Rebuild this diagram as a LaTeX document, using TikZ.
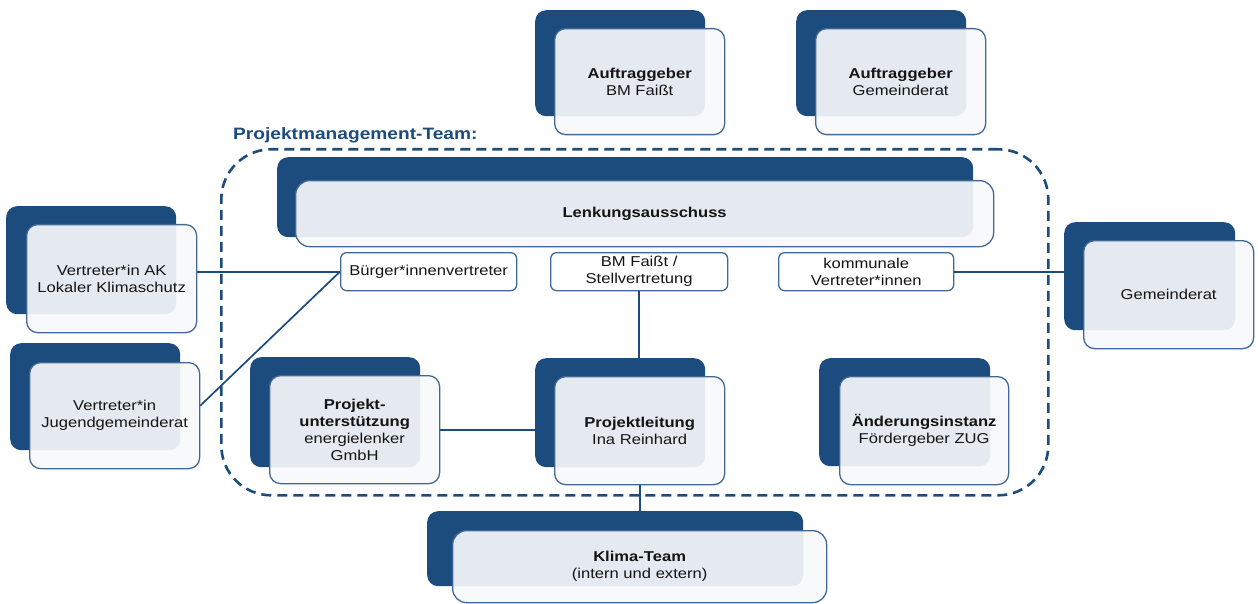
\documentclass[tikz,border=0pt]{standalone}
\usepackage{fontspec}
\setmainfont[FakeStretch=1.16]{Liberation Sans}
\definecolor{dblue}{RGB}{28,75,125}
\definecolor{lblue}{RGB}{68,104,150}
\definecolor{ffill}{RGB}{247,248,250}
\definecolor{txt}{RGB}{20,20,20}
\begin{document}
\begin{tikzpicture}[x=1pt,y=-1pt,
 backbox/.style={draw=none, fill=dblue, rounded corners=11pt, inner sep=0pt, anchor=north west},
 frontbox/.style={draw=lblue, line width=1.3pt, fill=ffill, fill opacity=0.92, text opacity=1, rounded corners=11pt, align=center, text=txt, font=\fontsize{14.3}{17}\selectfont, inner sep=0pt, anchor=north west},
 smallbox/.style={draw=lblue, line width=1.3pt, fill=white, rounded corners=6pt, align=center, text=txt, font=\fontsize{14.3}{17}\selectfont, inner sep=0pt, anchor=north west, minimum height=38pt},
 conn/.style={draw=dblue, line width=1.7pt},
 pmtbox/.style={draw=dblue, line width=2.6pt, dash pattern=on 10pt off 6pt, rounded corners=50pt, anchor=north west, inner sep=0pt}]
\useasboundingbox (0,0) rectangle (1258,604);

% dashed project management team frame
\node[pmtbox, minimum width=827pt, minimum height=346pt] (pmt) at (220,148) {};
\node[anchor=base west, inner sep=0pt, text=dblue, font=\bfseries\fontsize{16.5}{20}\selectfont] (pmtlabel) at (233,140) {Projektmanagement-Team:};

% Auftraggeber BM
\node[backbox, minimum width=170pt, minimum height=106pt] (ab1-b) at (535,10) {};
\node[frontbox, minimum width=170pt, minimum height=106pt] (ab1) at (554,28) {\textbf{Auftraggeber}\\BM Faißt};
% Auftraggeber Gemeinderat
\node[backbox, minimum width=170pt, minimum height=106pt] (ab2-b) at (796,10) {};
\node[frontbox, minimum width=170pt, minimum height=106pt] (ab2) at (815,28) {\textbf{Auftraggeber}\\Gemeinderat};
% Lenkungsausschuss
\node[backbox, minimum width=696pt, minimum height=80pt] (lenk-b) at (277,157) {};
\node[frontbox, rounded corners=14pt, minimum width=698pt, minimum height=66pt] (lenk) at (295,180) {\textbf{Lenkungsausschuss}};
% Vertreter AK
\node[backbox, minimum width=170pt, minimum height=108pt] (ak-b) at (6,206) {};
\node[frontbox, minimum width=170pt, minimum height=108pt] (ak) at (26,224) {Vertreter*in AK\\Lokaler Klimaschutz};
% Vertreter Jugendgemeinderat
\node[backbox, minimum width=170pt, minimum height=107pt] (jg-b) at (10,343) {};
\node[frontbox, minimum width=170pt, minimum height=106pt] (jg) at (29,362) {Vertreter*in\\Jugendgemeinderat};
% Projektunterstuetzung
\node[backbox, minimum width=170pt, minimum height=110pt] (pu-b) at (250,357) {};
\node[frontbox, minimum width=170pt, minimum height=108pt] (pu) at (269,375) {\textbf{Projekt-}\\\textbf{unterstützung}\\energielenker\\GmbH};
% Projektleitung
\node[backbox, minimum width=170pt, minimum height=109pt] (pl-b) at (535,358) {};
\node[frontbox, minimum width=170pt, minimum height=108pt] (pl) at (554,376) {\textbf{Projektleitung}\\Ina Reinhard};
% Aenderungsinstanz
\node[backbox, minimum width=171pt, minimum height=108pt] (ai-b) at (819,358) {};
\node[frontbox, minimum width=169pt, minimum height=108pt] (ai) at (839,376) {\textbf{Änderungsinstanz}\\Fördergeber ZUG};
% Gemeinderat
\node[backbox, minimum width=171pt, minimum height=108pt] (gr-b) at (1064,222) {};
\node[frontbox, minimum width=170pt, minimum height=108pt] (gr) at (1083,240) {Gemeinderat};
% Klima-Team
\node[backbox, minimum width=376pt, minimum height=75pt] (kt-b) at (427,511) {};
\node[frontbox, rounded corners=14pt, minimum width=374pt, minimum height=72pt] (kt) at (452,530) {\textbf{Klima-Team}\\(intern und extern)};

% small boxes
\node[smallbox, minimum width=176pt] (bu) at (340,252) {Bürger*innenvertreter};
\node[smallbox, minimum width=177pt] (bm) at (550,252) {BM Faißt /\\Stellvertretung};
\node[smallbox, minimum width=175pt] (ko) at (778,252) {kommunale\\Vertreter*innen};

% connectors
\draw[conn] (bu.west) -- (bu.west -| ak.east);
\draw[conn] (bu.west) -- ([yshift=10pt]jg.east);
\draw[conn] (ko.east) -- (ko.east -| gr-b.west);
\draw[conn] (bm.south) -- (bm.south |- pl.north);
\draw[conn] (pu.east) -- (pu.east -| pl-b.west);
\draw[conn] (pl.south) -- (pl.south |- kt-b.north);
\end{tikzpicture}
\end{document}
